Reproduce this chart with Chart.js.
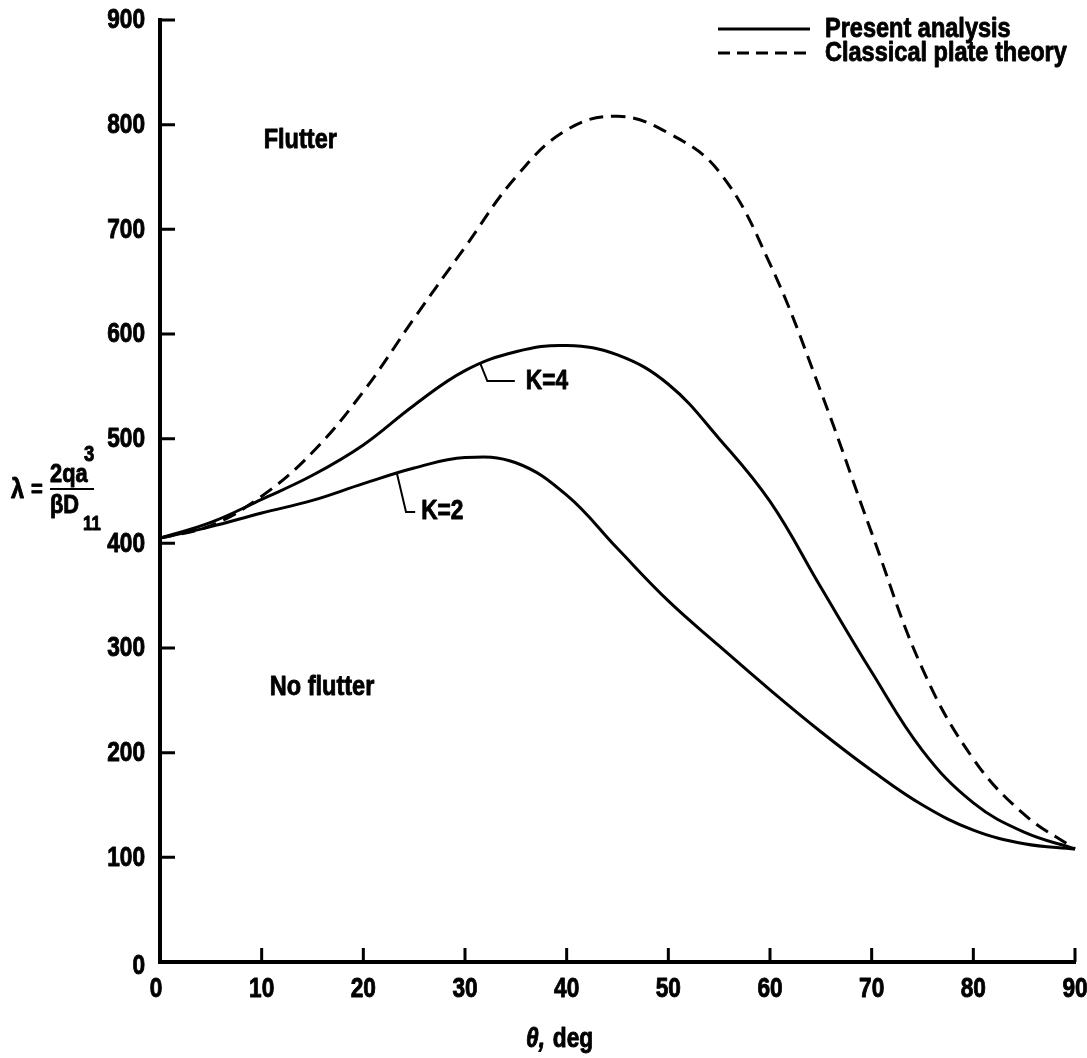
<!DOCTYPE html>
<html>
<head>
<meta charset="utf-8">
<script src="https://cdn.jsdelivr.net/npm/chart.js@4.4.1/dist/chart.umd.min.js"></script>
<style>
  html, body { margin: 0; padding: 0; background: #fff; }
  #wrap { width: 1087px; height: 1058px; }
</style>
</head>
<body>
<div id="wrap"><canvas id="flutterChart" width="1087" height="1058"></canvas></div>
<script>
// flutter boundary vs. ply angle
const theta = [0, 5, 10, 15, 20, 25, 30, 35, 40, 45, 50, 55, 60, 65, 70, 75, 80, 85, 90];
const lambdaK2 = [405, 416, 429, 441, 457, 472, 482, 477, 446, 395, 345, 302, 260, 220, 183, 150, 126, 113, 108];
const lambdaK4 = [405, 420, 442, 465, 494, 532, 565, 583, 589, 580, 552, 500, 440, 358, 277, 202, 152, 124, 108];
const lambdaClassical = [405, 417, 445, 487, 545, 615, 683, 750, 795, 808, 792, 755, 667, 545, 410, 280, 194, 141, 108];

const xTicks = [0, 10, 20, 30, 40, 50, 60, 70, 80, 90];
const yTicks = [0, 100, 200, 300, 400, 500, 600, 700, 800, 900];

const legendItems = ['Present analysis', 'Classical plate theory'];
const regionLabels = [
  { text: 'Flutter', theta: 10.2, lambda: 785 },
  { text: 'No flutter', theta: 10.8, lambda: 262 }
];
// callout: point on curve, elbow, end of leader
const callouts = [
  { text: 'K=4', from: [31.5, 572], elbow: [32.2, 555], to: [34.9, 555], gap: 11 },
  { text: 'K=2', from: [23.3, 467], elbow: [24.2, 430], to: [25.1, 430], gap: 6 }
];

const FONT = '"Liberation Sans", Arial, sans-serif';
const SQUEEZE = 0.84; // narrow lettering

// heavy condensed text: squeeze horizontally around the anchor
function drawText(ctx, text, x, y, size, align, italic) {
  ctx.save();
  ctx.font = `${italic ? 'italic ' : ''}bold ${size}px ${FONT}`;
  ctx.textAlign = align || 'left';
  ctx.textBaseline = 'middle';
  ctx.lineWidth = 0.9;
  ctx.lineJoin = 'round';
  ctx.translate(x, y);
  ctx.scale(SQUEEZE, 1);
  ctx.fillText(text, 0, 0);
  ctx.strokeText(text, 0, 0);
  ctx.restore();
}

function textWidth(ctx, text, size) {
  ctx.save();
  ctx.font = `bold ${size}px ${FONT}`;
  const w = ctx.measureText(text).width * SQUEEZE;
  ctx.restore();
  return w;
}

function toPoints(arr) {
  return theta.map((t, i) => ({ x: t, y: arr[i] }));
}

const lineStyle = {
  borderColor: '#000',
  borderWidth: 3,
  pointRadius: 0,
  fill: false,
  tension: 0.4,
  clip: 6
};

// inward tick marks and tick labels on both axes
const axisMarks = {
  id: 'axisMarks',
  afterDraw(chart) {
    const { ctx, chartArea, scales: { x, y } } = chart;
    ctx.save();
    ctx.strokeStyle = '#000';
    ctx.fillStyle = '#000';
    ctx.lineWidth = 3;
    ctx.beginPath();
    y.ticks.forEach(t => {
      if (t.value === 0) return;
      const py = y.getPixelForValue(t.value);
      ctx.moveTo(chartArea.left, py);
      ctx.lineTo(chartArea.left + 15, py);
    });
    x.ticks.forEach(t => {
      if (t.value === 0) return;
      const px = x.getPixelForValue(t.value);
      ctx.moveTo(px, chartArea.bottom);
      ctx.lineTo(px, chartArea.bottom - 14);
    });
    ctx.stroke();

    y.ticks.forEach(t => {
      const py = y.getPixelForValue(t.value);
      drawText(ctx, String(t.value), chartArea.left - 15, py + (t.value === 0 ? 5 : 1), 27, 'right');
    });
    x.ticks.forEach(t => {
      const px = x.getPixelForValue(t.value);
      drawText(ctx, String(t.value), px - (t.value === 0 ? 4 : 0), chartArea.bottom + 28, 27, 'center');
    });
    ctx.restore();
  }
};

const annotations = {
  id: 'annotations',
  afterDatasetsDraw(chart) {
    const { ctx, scales: { x, y } } = chart;
    ctx.save();
    ctx.fillStyle = '#000';
    ctx.strokeStyle = '#000';

    regionLabels.forEach(l => {
      drawText(ctx, l.text, x.getPixelForValue(l.theta), y.getPixelForValue(l.lambda), 28);
    });

    callouts.forEach(c => {
      ctx.lineWidth = 2;
      ctx.beginPath();
      ctx.moveTo(x.getPixelForValue(c.from[0]), y.getPixelForValue(c.from[1]));
      ctx.lineTo(x.getPixelForValue(c.elbow[0]), y.getPixelForValue(c.elbow[1]));
      ctx.lineTo(x.getPixelForValue(c.to[0]), y.getPixelForValue(c.to[1]));
      ctx.stroke();
      drawText(ctx, c.text, x.getPixelForValue(c.to[0]) + c.gap, y.getPixelForValue(c.to[1]), 27);
    });

    // legend, top right
    const lx = 718, lw = 92, ty = [29, 53];
    legendItems.forEach((label, i) => {
      ctx.beginPath();
      ctx.lineWidth = 3;
      ctx.setLineDash(i === 0 ? [] : [12, 7]);
      ctx.moveTo(lx, ty[i]);
      ctx.lineTo(lx + lw, ty[i]);
      ctx.stroke();
      ctx.setLineDash([]);
      drawText(ctx, label, lx + lw + 15, ty[i], 28);
    });

    // y axis title: lambda = 2qa^3 / (beta D_11)
    drawText(ctx, 'λ', 11, 490, 28);
    drawText(ctx, '=', 31, 490, 24);
    drawText(ctx, '2qa', 50, 475, 26);
    drawText(ctx, '3', 84, 455, 22);
    drawText(ctx, 'βD', 50, 506, 26);
    drawText(ctx, '11', 83, 524, 20);
    ctx.lineWidth = 2;
    ctx.beginPath();
    ctx.moveTo(50, 489);
    ctx.lineTo(94, 489);
    ctx.stroke();

    // x axis title
    drawText(ctx, 'θ,', 526, 1040, 27, 'left', true);
    drawText(ctx, 'deg', 526 + textWidth(ctx, 'θ, ', 27) + 2, 1040, 27);
    ctx.restore();
  }
};

const ctx = document.getElementById('flutterChart').getContext('2d');
new Chart(ctx, {
  type: 'line',
  data: {
    datasets: [
      Object.assign({ label: 'K = 2', data: toPoints(lambdaK2) }, lineStyle),
      Object.assign({ label: 'K = 4', data: toPoints(lambdaK4) }, lineStyle),
      Object.assign({ label: 'Classical plate theory', data: toPoints(lambdaClassical), borderDash: [14, 8] }, lineStyle)
    ]
  },
  options: {
    responsive: false,
    animation: false,
    layout: { padding: { left: 0, right: 12, top: 20, bottom: 0 } },
    plugins: {
      legend: { display: false },
      tooltip: { enabled: false }
    },
    scales: {
      x: {
        type: 'linear',
        min: 0,
        max: 90,
        afterBuildTicks(scale) { scale.ticks = xTicks.map(v => ({ value: v })); },
        afterFit(scale) {
          scale.height = 96;
          scale.paddingLeft = 0;
          scale.paddingRight = 0;
        },
        grid: { display: false },
        border: { display: true, color: '#000', width: 4 },
        ticks: { display: false }
      },
      y: {
        type: 'linear',
        min: 0,
        max: 900,
        afterBuildTicks(scale) { scale.ticks = yTicks.map(v => ({ value: v })); },
        afterFit(scale) {
          scale.width = 160;
          scale.paddingTop = 0;
          scale.paddingBottom = 0;
        },
        grid: { display: false },
        border: { display: true, color: '#000', width: 4 },
        ticks: { display: false }
      }
    }
  },
  plugins: [axisMarks, annotations]
});
</script>
</body>
</html>
